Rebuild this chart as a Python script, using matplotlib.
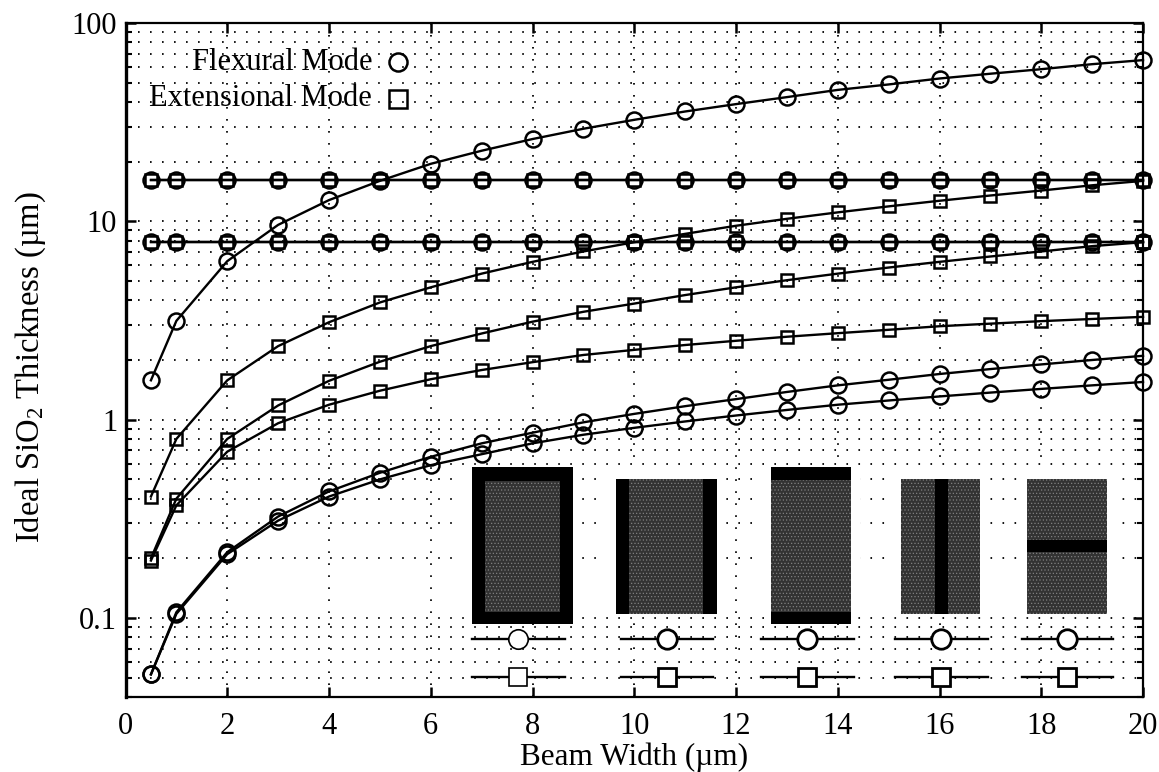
import numpy as np
import matplotlib
matplotlib.use('Agg')
import matplotlib.pyplot as plt
from matplotlib.patches import Rectangle
from matplotlib.ticker import FixedLocator, FixedFormatter, NullFormatter

plt.rcParams['font.family'] = ['Liberation Serif', 'DejaVu Serif']
plt.rcParams['mathtext.default'] = 'regular'
plt.rcParams['hatch.linewidth'] = 0.5

width = [0.5, 1, 2, 3, 4, 5, 6, 7, 8, 9, 10, 11, 12, 13, 14, 15, 16, 17, 18, 19, 20]

flex_top = [1.58, 3.15, 6.3, 9.6, 12.8, 16, 19.5, 22.7, 26, 29.3, 32.5, 35.8, 39, 42.3, 46, 49, 52.5, 55.5, 58.5, 62, 65]
flex_high = [16.1] * 21
flex_mid = [7.85] * 21
flex_low1 = [0.052, 0.107, 0.215, 0.325, 0.435, 0.54, 0.65, 0.76, 0.86, 0.97, 1.07, 1.17, 1.27, 1.38, 1.49, 1.59, 1.7, 1.8, 1.9, 2.0, 2.1]
flex_low2 = [0.052, 0.105, 0.21, 0.31, 0.41, 0.5, 0.59, 0.67, 0.76, 0.84, 0.91, 0.98, 1.05, 1.12, 1.19, 1.25, 1.31, 1.37, 1.43, 1.49, 1.55]

ext_high = [16.1] * 21
ext_mid = [7.85] * 21
ext_1 = [0.41, 0.8, 1.58, 2.35, 3.1, 3.9, 4.65, 5.45, 6.25, 7.05, 7.85, 8.65, 9.5, 10.3, 11.1, 11.9, 12.7, 13.5, 14.3, 15.2, 16]
ext_2 = [0.2, 0.4, 0.8, 1.18, 1.57, 1.96, 2.35, 2.72, 3.12, 3.5, 3.85, 4.25, 4.65, 5.05, 5.45, 5.85, 6.25, 6.65, 7.05, 7.5, 7.85]
ext_3 = [0.195, 0.37, 0.69, 0.96, 1.19, 1.4, 1.6, 1.78, 1.95, 2.12, 2.25, 2.38, 2.5, 2.62, 2.73, 2.84, 2.96, 3.05, 3.14, 3.22, 3.3]

xticks = [0, 2, 4, 6, 8, 10, 12, 14, 16, 18, 20]
yticks = [0.1, 1, 10, 100]
ylabels = ['0.1', '1', '10', '100']

W, H = 1159, 772
fig = plt.figure(figsize=(W / 100, H / 100), dpi=100)
ax = fig.add_axes([125.5 / W, 1 - 697 / H, (1143 - 125.5) / W, (697 - 23) / H])

ax.set_yscale('log')
ax.set_xlim(0, 20)
ax.set_ylim(0.04, 100)

for vals in [flex_top, flex_high, flex_mid, flex_low1, flex_low2]:
    ax.plot(width, vals, '-o', color='black', lw=1.7, ms=11.5, mew=1.8, mfc='none', zorder=3, clip_on=False)
for vals in [ext_high, ext_mid, ext_1, ext_2, ext_3]:
    ax.plot(width, vals, '-s', color='black', lw=1.7, ms=9, mew=1.8, mfc='none', zorder=3, clip_on=False)

ax.xaxis.set_major_locator(FixedLocator(xticks))
ax.yaxis.set_major_locator(FixedLocator(yticks))
ax.yaxis.set_major_formatter(FixedFormatter(ylabels))
minor = [m * 10.0 ** e for e in range(-2, 2) for m in range(2, 10)]
ax.yaxis.set_minor_locator(FixedLocator(minor))
ax.yaxis.set_minor_formatter(NullFormatter())

dots = (0, (0.9, 5.75))
ax.grid(True, which='major', axis='x', color='black', lw=1.3, ls=dots)
ax.grid(True, which='both', axis='y', color='black', lw=1.3, ls=dots)
ax.set_axisbelow(True)

ax.tick_params(which='major', direction='in', top=True, right=True, length=7.5, width=1.8,
               labelsize=22, pad=6)
ax.tick_params(axis='x', which='major', pad=11)
ax.tick_params(which='minor', direction='in', left=True, right=True, length=4, width=1.5)
for s in ax.spines.values():
    s.set_linewidth(1.6)
ax.spines['left'].set_linewidth(2.4)

ax.set_xlabel('Beam Width (\u00b5m)', fontsize=22.5, labelpad=1)
ax.set_ylabel('Ideal SiO$_2$ Thickness (\u00b5m)', fontsize=23.5, labelpad=17, y=0.49)

# overlay in picture pixels for the legend and the cross section sketches
over = fig.add_axes([0, 0, 1, 1], zorder=5)
over.set_xlim(0, W)
over.set_ylim(H, 0)
over.axis('off')

over.text(372, 62, 'Flexural Mode', ha='right', va='center', fontsize=22)
over.text(372, 98, 'Extensional Mode', ha='right', va='center', fontsize=22)
over.plot([398], [62], 'o', color='black', ms=13, mew=1.8, mfc='none')
over.plot([398], [98.5], 's', color='black', ms=13, mew=1.8, mfc='none')


def block(x0, x1, y0, y1, color):
    over.add_patch(Rectangle((x0, y0), x1 - x0, y1 - y0, fc=color, ec='none'))


def beam(x0, x1, y0, y1):
    # grey grainy body of the sketch
    over.add_patch(Rectangle((x0, y0), x1 - x0, y1 - y0, fc='#333333', ec='#808080', lw=0, hatch='.....'))


# white margin that interrupts the grid round each sketch
for x0, x1 in [(462, 582), (606, 726), (761, 860), (891, 989), (1017, 1116)]:
    block(x0, x1, 467, 611, 'white')

block(471.5, 572.5, 467, 624, 'black')
beam(484.5, 560, 481, 611.5)

block(615.5, 717, 479, 613.5, 'black')
beam(628.5, 703, 479, 613.5)

block(771, 850.5, 467, 624, 'black')
beam(771, 850.5, 480, 612)

beam(901, 980, 479, 613.5)
block(934.5, 947.5, 479, 613.5, 'black')

beam(1027, 1106.5, 479, 613.5)
block(1027, 1106.5, 539.5, 552, 'black')

line_x = [(471.5, 564.5), (620.8, 713), (760.6, 853.7), (895, 988), (1022, 1113.4)]
mark_x = [518.4, 667, 807, 941.4, 1067.3]
edge = [1.2, 2, 2, 2, 2]
for (x0, x1), mx, e in zip(line_x, mark_x, edge):
    over.plot([x0, x1], [639, 639], color='black', lw=1.7)
    over.plot([x0, x1], [676.7, 676.7], color='black', lw=1.7)
    over.plot([mx], [639], 'o', color='black', ms=14, mew=e, mfc='white')
    over.plot([mx], [676.7], 's', color='black', ms=13, mew=e, mfc='white')

fig.savefig('out.png', dpi=100)
